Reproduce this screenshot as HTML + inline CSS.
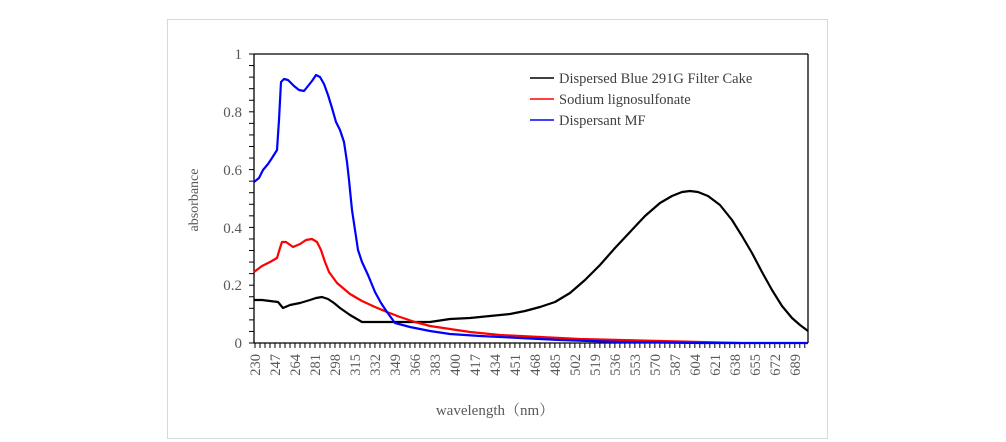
<!DOCTYPE html>
<html><head><meta charset="utf-8"><style>
html,body{margin:0;padding:0;background:#fff;}
svg{display:block;font-family:"Liberation Serif",serif;}
</style></head><body>
<svg width="1006" height="442" viewBox="0 0 1006 442" xmlns="http://www.w3.org/2000/svg">
<rect x="167.5" y="19.5" width="660" height="419" fill="#fff" stroke="#d9d9d9" stroke-width="1"/>
<g stroke="#000" stroke-width="1.3" fill="none">
<line x1="254" y1="54" x2="808" y2="54"/>
<line x1="808" y1="54" x2="808" y2="343"/>
<line x1="254" y1="54" x2="254" y2="343"/>
<line x1="254" y1="343" x2="808" y2="343"/>
</g>
<g stroke="#000" stroke-width="1" id="ticks"></g>
<g fill="#595959" font-size="15" text-anchor="end">
<text x="242" y="59">1</text>
<text x="242" y="117">0.8</text>
<text x="242" y="175">0.6</text>
<text x="242" y="233">0.4</text>
<text x="242" y="290">0.2</text>
<text x="242" y="348">0</text>
</g>
<text x="198" y="200" fill="#595959" font-size="14" text-anchor="middle" transform="rotate(-90 198 200)">absorbance</text>
<text x="495" y="415" fill="#595959" font-size="15" text-anchor="middle" font-family="Liberation Serif, Noto Serif CJK SC, serif">wavelength（nm）</text>
<g id="xl" fill="#595959" font-size="14.5"></g>
<polyline fill="none" stroke="#000" stroke-width="2.2" stroke-linejoin="round" points="254,300 262,300 270,301 278,302 283,308 290,305 300,303 310,300 316,298 322,297 328,299 334,303 340,308 350,315 362,322 380,322 400,322 430,322 450,319 470,318 490,316 510,314 525,311 540,307 555,302 570,293 585,280 600,265 615,248 630,232 645,216 660,203 672,196 682,192 690,191 698,192 708,196 720,205 732,220 742,236 752,253 762,272 772,290 782,306 792,318 800,325 808,331"/>
<polyline fill="none" stroke="#f00" stroke-width="2.2" stroke-linejoin="round" points="254,272 262,266 270,262 277,258 280,248 282,242 286,242 293,247 300,244 306,240 312,239 317,242 321,250 325,262 329,272 337,283 350,294 362,301 375,307 387,312 400,317 415,322 430,326 450,329 470,332 500,335 540,337 580,339 620,340 660,341 700,342 740,343"/>
<polyline fill="none" stroke="#00f" stroke-width="2.2" stroke-linejoin="round" points="254,182 259,178 263,170 268,164 272,158 277,150 279,120 281,82 284,79 288,80 294,86 299,90 304,91 308,86 312,81 316,75 320,77 324,84 328,95 332,108 336,122 340,130 344,142 347,162 349,180 352,210 355,230 358,250 362,262 368,275 375,292 381,303 387,312 395,323 410,327 430,331 450,334 480,336 520,338 560,340 620,342 700,343 808,343"/>
<g stroke-width="1.5">
<line x1="530" y1="78" x2="554" y2="78" stroke="#000"/>
<line x1="530" y1="99" x2="554" y2="99" stroke="#f00"/>
<line x1="530" y1="120" x2="554" y2="120" stroke="#00f"/>
</g>
<g fill="#404040" font-size="14.5">
<text x="559" y="83">Dispersed Blue 291G  Filter  Cake</text>
<text x="559" y="104">Sodium  lignosulfonate</text>
<text x="559" y="125">Dispersant MF</text>
</g>
</svg>
<script>
(function(){
var ns="http://www.w3.org/2000/svg";
var t=document.getElementById("ticks");
for(var i=0;i<=25;i++){var y=54+i*289/25;var l=document.createElementNS(ns,"line");l.setAttribute("x1",249);l.setAttribute("x2",254);l.setAttribute("y1",y);l.setAttribute("y2",y);t.appendChild(l);}
var px=1.176;
for(var k=0;;k++){var x=255+k*17/4*px;if(x>808.5)break;var l=document.createElementNS(ns,"line");l.setAttribute("x1",x);l.setAttribute("x2",x);l.setAttribute("y1",343);l.setAttribute("y2",348);t.appendChild(l);}
var xl=document.getElementById("xl");
for(var v=230;v<=689;v+=17){var x=255+(v-230)*px+5;var tx=document.createElementNS(ns,"text");tx.setAttribute("transform","translate("+x+",354) rotate(-90)");tx.setAttribute("text-anchor","end");tx.textContent=v;xl.appendChild(tx);}
})();
</script>
</body></html>
